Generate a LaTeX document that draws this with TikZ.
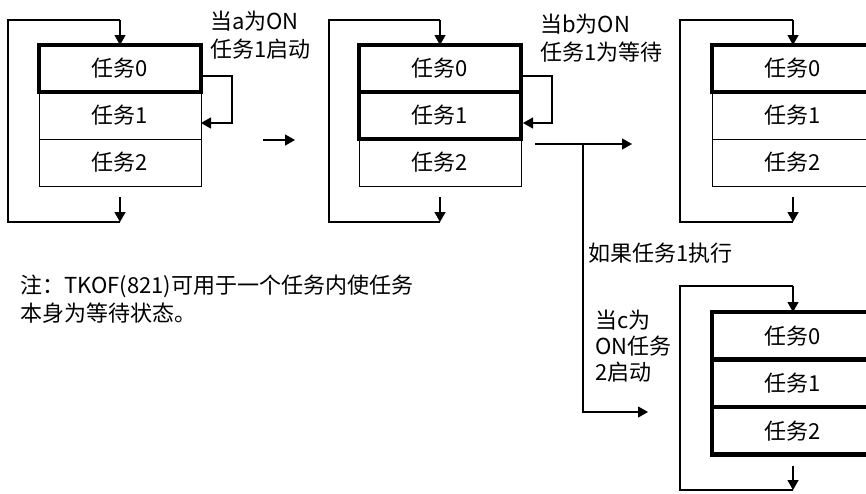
\documentclass[tikz,border=0pt]{standalone}
\usepackage{fontspec}
\setmainfont{Noto Sans CJK SC}
\usetikzlibrary{arrows.meta}
\tikzset{
  row/.style={draw, line width=0.9pt, minimum width=162pt, minimum height=47pt,
    inner sep=0pt, outer sep=0pt, anchor=north west, font=\fontsize{22}{26}\selectfont},
  active/.style={line width=4.5pt},
  conn/.style={line width=1.3pt},
  arr/.style={conn, -{Triangle[length=10pt,width=11pt]}},
  lbl/.style={align=left, anchor=west, inner sep=0pt, font=\fontsize{22}{28}\selectfont},
}
\begin{document}
\begin{tikzpicture}[x=1pt,y=-1pt]
\useasboundingbox (0,0) rectangle (866,493);
\clip (0,0) rectangle (866,493);

% ---------- block A ----------
\node[row] (a1) at (39,92) {任务1};
\node[row] (a2) at (39,139) {任务2};
\node[row,active] (a0) at (39,45) {任务0};
\coordinate (a-top) at (120,20);
\coordinate (a-tl) at (8,20);
\coordinate (a-bl) at (8,222);
\coordinate (a-bot) at (120,222);
\coordinate (a-bs) at (120,197);
\draw[conn] (a-bot) -- (a-bl) -- (a-tl) -- (a-top);
\draw[arr] (a-top) -- (a0.north);
\draw[arr] (a-bs) -- (a-bot);
\coordinate (a-s1) at (232,76);
\coordinate (a-s2) at (232,123);
\draw[arr] (a0.east |- a-s1) -- (a-s1) -- (a-s2) -- (a1.east |- a-s2);
\node[lbl] (la) at (210,35) {当a为ON\\任务1启动};

% arrow A -> B
\coordinate (m1) at (263,140);
\coordinate (m2) at (295,140);
\draw[arr] (m1) -- (m2);

% ---------- block B ----------
\node[row] (b2) at (359,139) {任务2};
\node[row,active] (b0) at (359,45) {任务0};
\node[row,active] (b1) at (359,92) {任务1};
\coordinate (b-top) at (440,20);
\coordinate (b-tl) at (329,20);
\coordinate (b-bl) at (329,222);
\coordinate (b-bot) at (440,222);
\coordinate (b-bs) at (440,197);
\draw[conn] (b-bot) -- (b-bl) -- (b-tl) -- (b-top);
\draw[arr] (b-top) -- (b0.north);
\draw[arr] (b-bs) -- (b-bot);
\coordinate (b-s1) at (552,76);
\coordinate (b-s2) at (552,123);
\draw[arr] (b0.east |- b-s1) -- (b-s1) -- (b-s2) -- ([xshift=2pt]b1.east |- b-s2);
\node[lbl] (lb) at (540,38) {当b为ON\\任务1为等待};

% branch
\coordinate (br0) at (535,144);
\coordinate (br1) at (583,144);
\coordinate (brE) at (632,144);
\coordinate (br2) at (583,412);
\coordinate (br3) at (648,412);
\draw[arr] (br0) -- (brE);
\draw[arr] (br1) -- (br2) -- (br3);
\node[lbl] (lc) at (588,253) {如果任务1执行};
\node[lbl, font=\fontsize{22}{26}\selectfont] (ld) at (595,346) {当c为\\ON任务\\2启动};

% ---------- block C ----------
\node[row] (c1) at (712,92) {任务1};
\node[row] (c2) at (712,139) {任务2};
\node[row,active] (c0) at (712,45) {任务0};
\coordinate (c-top) at (793,20);
\coordinate (c-tl) at (680,20);
\coordinate (c-bl) at (680,222);
\coordinate (c-bot) at (793,222);
\coordinate (c-bs) at (793,197);
\draw[conn] (c-bot) -- (c-bl) -- (c-tl) -- (c-top);
\draw[arr] (c-top) -- (c0.north);
\draw[arr] (c-bs) -- (c-bot);

% ---------- block D ----------
\node[row,active,minimum height=47.5pt] (d0) at (712,312) {任务0};
\node[row,active,minimum height=47.5pt] (d1) at (712,359.5) {任务1};
\node[row,active,minimum height=47.5pt] (d2) at (712,407) {任务2};
\coordinate (d-top) at (793,286);
\coordinate (d-tl) at (680,286);
\coordinate (d-bl) at (680,490);
\coordinate (d-bot) at (793,490);
\coordinate (d-bs) at (793,466);
\draw[conn] (d-bot) -- (d-bl) -- (d-tl) -- (d-top);
\draw[arr] (d-top) -- (d0.north);
\draw[arr] (d-bs) -- (d-bot);

% note
\node[lbl] (note) at (20,299) {注：TKOF(821)可用于一个任务内使任务\\本身为等待状态。};
\end{tikzpicture}
\end{document}
